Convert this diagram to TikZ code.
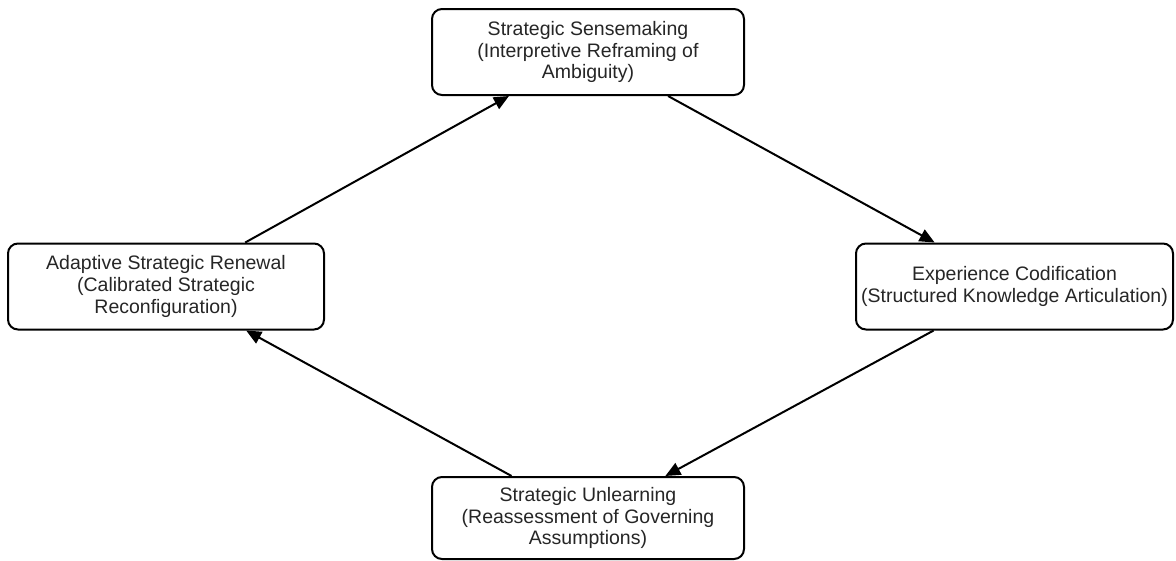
\documentclass[tikz,border=0pt]{standalone}
\usepackage{fontspec}
\setmainfont{Liberation Sans}
\usetikzlibrary{arrows.meta}
\tikzset{
  stage/.style={draw=black, line width=2pt, rounded corners=10pt, fill=white,
    align=center, inner sep=0pt, text=black!85,
    font=\fontsize{19.5}{21.7}\selectfont},
  flow/.style={draw=black, line width=2pt, -{Triangle[length=15pt,width=13pt]}}
}
\begin{document}
\begin{tikzpicture}[x=1pt,y=-1pt]
\useasboundingbox (0,0) rectangle (1176,560);
\node[stage, minimum width=312pt, minimum height=86pt] (top) at (588,52)
  {Strategic Sensemaking\\(Interpretive Reframing of\\Ambiguity)};
\node[stage, minimum width=317pt, minimum height=86pt] (right) at (1014.5,286.5)
  {Experience Codification\\(Structured Knowledge Articulation)};
\node[stage, minimum width=312pt, minimum height=82pt] (bottom) at (588,518)
  {Strategic Unlearning\\(Reassessment of Governing\\Assumptions)};
\node[stage, minimum width=316pt, minimum height=86pt] (left) at (166,286.5)
  {Adaptive Strategic Renewal\\(Calibrated Strategic\\Reconfiguration)};
\draw[flow] (top) -- (right);
\draw[flow] (right) -- (bottom);
\draw[flow] (bottom) -- (left);
\draw[flow] (left) -- (top);
\end{tikzpicture}
\end{document}
